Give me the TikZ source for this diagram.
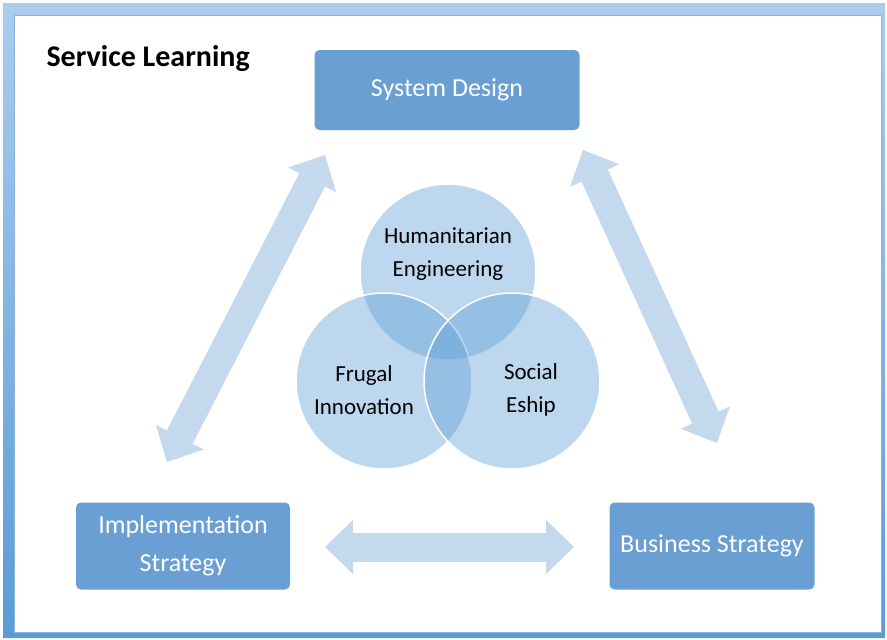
\documentclass[tikz,border=0pt]{standalone}
\usepackage{fontspec}
\setmainfont{Carlito}
\usetikzlibrary{arrows.meta}
\definecolor{boxblue}{HTML}{6A9FD4}
\definecolor{vennblue}{HTML}{5B9BD5}
\definecolor{linkblue}{HTML}{C5D9EE}
\definecolor{frametop}{HTML}{AACDEE}
\definecolor{framebot}{HTML}{5B9BD5}

\begin{document}
\begin{tikzpicture}[
x = 1pt, y = -1pt,
box/.style = {rectangle, rounded corners=5pt, fill=boxblue, text=white, align=center, inner sep=0pt, font=\fontsize{26}{38}\selectfont},
venn/.style = {circle, fill=vennblue, fill opacity=0.4, draw=white, line width=1.5pt, minimum size=176pt, inner sep=0pt},
vtext/.style = {align=center, text=black, font=\fontsize{23}{33}\selectfont},
link/.style = {linkblue, line width=29pt, {Triangle[length=28pt,width=54pt,line width=0pt]}-{Triangle[length=28pt,width=54pt,line width=0pt]}}]

\useasboundingbox (0,0) rectangle (887,640);

% frame
\shade[top color=frametop, bottom color=framebot, even odd rule] (3,3) rectangle (885,638) (14,15) rectangle (881,632);
\draw[framebot!75, line width=0.8pt] (14,15) rectangle (881,632);

\node[anchor=base west, font=\bfseries\fontsize{30}{36}\selectfont] (title) at (43,66) {Service Learning};

% arrows between the strategies
\coordinate (implup) at (167,462);
\coordinate (sysleft) at (325,155);
\coordinate (sysright) at (583,150);
\coordinate (busup) at (717,443);
\coordinate (implright) at (325,547);
\coordinate (busleft) at (574,547);

\draw[link] (implup) -- (sysleft);
\draw[link] (sysright) -- (busup);
\draw[link] (implright) -- (busleft);

\node[box, minimum width=265pt, minimum height=80pt] (sys) at (447,90) {System Design};
\node[box, minimum width=214pt, minimum height=87pt] (impl) at (183,546) {Implementation\\Strategy};
\node[box, minimum width=205pt, minimum height=87pt] (bus) at (712,546) {Business Strategy};

% venn
\node[venn] (hum) at (448,272) {};
\node[venn] (fru) at (384,381) {};
\node[venn] (soc) at (512,381) {};

\node[vtext] (humtxt) at (448,254) {Humanitarian\\Engineering};
\node[vtext] (frutxt) at (364,390) {Frugal\\Innovation};
\node[vtext] (soctxt) at (531,390) {Social\\Eship};
\end{tikzpicture}
\end{document}
